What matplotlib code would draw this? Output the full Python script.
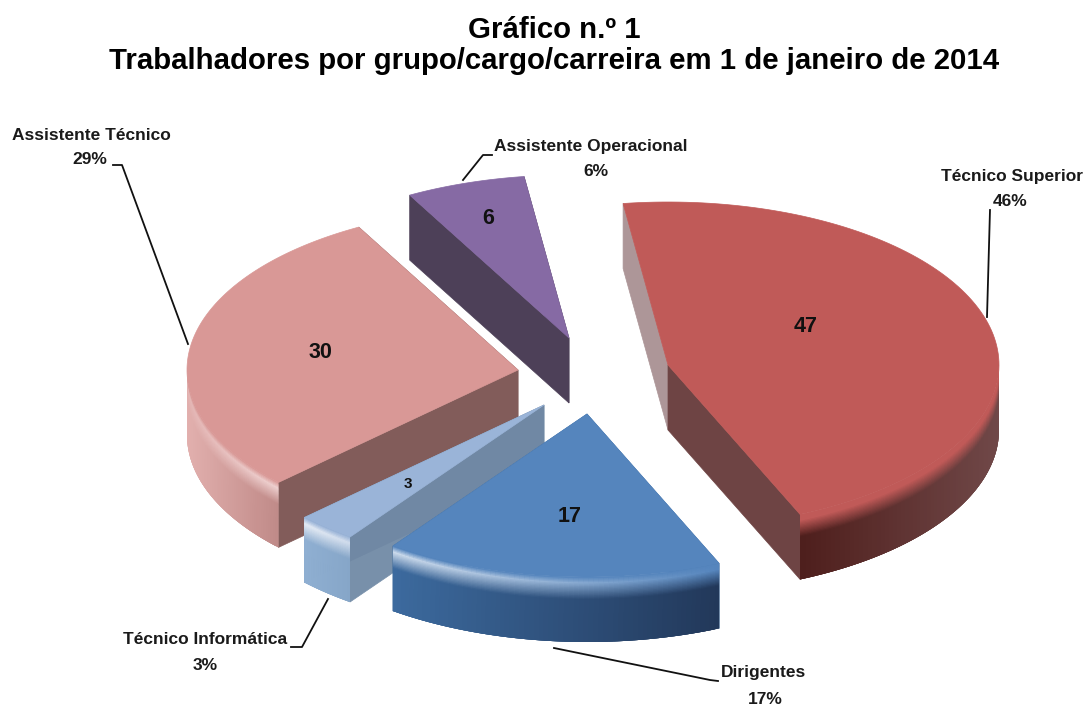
#!/usr/bin/env python3
import numpy as np
import matplotlib

matplotlib.use("Agg")
import matplotlib.pyplot as plt
from matplotlib.collections import PolyCollection
from matplotlib.colors import to_rgb
from matplotlib.patches import Polygon

categorias = ["Técnico Superior", "Dirigentes", "Técnico Informática", "Assistente Técnico", "Assistente Operacional"]
valores = [47, 17, 3, 30, 6]
percentagens = ["46%", "17%", "3%", "29%", "6%"]

TITULO_1 = "Gráfico n.º 1"
TITULO_2 = "Trabalhadores por grupo/cargo/carreira em 1 de janeiro de 2014"

# layout, in image pixels
W, H = 1085, 706
RX, RY = 331, 163
DEPTH = 65
START = -7.8
APEX = [(668, 365), (587, 414), (544, 405), (518, 370), (569, 338)]
ORDER = [4, 3, 2, 0, 1]

TOP = ["#c05a58", "#5585bd", "#9ab4d8", "#d99896", "#866aa4"]
CUT_A = ["#ad9698", "#3c6a9e", "#7890aa", "#825c5a", "#4d4058"]
CUT_B = ["#6e4444", "#3c6a9e", "#7088a4", "#825c5a", "#4d4058"]
WALL_L = ["#4e1e1c", "#3c6a9e", "#8fafd2", "#e2b0ae", "#4d4058"]
WALL_R = ["#704848", "#22385a", "#86a6c8", "#c08a88", "#4d4058"]
GLOW_L = [0.0, 0.7, 0.75, 0.3, 0.0]
GLOW_R = [0.0, 0.0, 0.55, 0.55, 0.0]

VALUE_POS = [(806, 326), (570, 516), (408, 484), (320, 352), (488, 218)]
VALUE_SIZE = [15.5, 15.5, 11, 15.5, 15.5]
LABEL_POS = [(1012, 177), (764, 673), (205, 640), (91, 135), (591, 147)]
PCT_POS = [(1010, 201), (765, 699), (205, 665), (90, 160), (596, 172)]
LEADERS = [
    [(990, 210), (987, 317)],
    [(554, 648), (710, 680), (718, 681)],
    [(328, 599), (302, 647), (291, 647)],
    [(113, 165), (122, 165), (188, 344)],
    [(463, 180), (483, 155), (492, 155)],
]


def rim(apex, theta):
    r = np.radians(theta)
    return apex[0] + RX * np.sin(r), apex[1] - RY * np.cos(r)


def mix(a, b, t):
    a, b = np.array(to_rgb(a)), np.array(to_rgb(b))
    return a + (b - a) * t


def draw_slice(ax, i, t0, t1):
    apex = APEX[i]
    down = np.array([0, DEPTH])
    p0 = np.array(rim(apex, t0))
    p1 = np.array(rim(apex, t1))
    a = np.array(apex)
    # flat cut faces first, the top face hides whichever faces away
    ax.add_patch(Polygon([p0, a, a + down, p0 + down], fc=CUT_A[i], ec=CUT_A[i], lw=0.5))
    ax.add_patch(Polygon([p1, a, a + down, p1 + down], fc=CUT_B[i], ec=CUT_B[i], lw=0.5))

    # outer wall with bevel, only the part facing the viewer
    lo, hi = max(t0, 90), min(t1, 270)
    if lo < hi:
        thetas = np.linspace(lo, hi, 70)
        xs = np.array([rim(apex, t)[0] for t in thetas])
        us = (xs - xs.min()) / max(xs.max() - xs.min(), 1)
        steps = np.concatenate([np.linspace(0, 0.34, 18), np.linspace(0.34, 1, 4)[1:]])
        quads, cols = [], []
        last = len(thetas) - 1
        for k in range(last):
            pa = np.array(rim(apex, thetas[k]))
            # each quad runs over the next one so the seams do not show
            pb = np.array(rim(apex, thetas[min(k + 2, last)]))
            u = (us[k] + us[k + 1]) / 2
            wall = mix(WALL_L[i], WALL_R[i], u)
            glow = GLOW_L[i] + (GLOW_R[i] - GLOW_L[i]) * u
            hl = mix(TOP[i], "#ffffff", glow)
            for j in range(len(steps) - 1):
                s0 = steps[j]
                s1 = steps[min(j + 2, len(steps) - 1)]
                s = (steps[j] + steps[j + 1]) / 2
                if s < 0.09:
                    c = mix(TOP[i], hl, s / 0.09)
                elif s < 0.34:
                    c = mix(hl, wall, (s - 0.09) / 0.25)
                else:
                    c = wall
                quads.append([pa + down * s0, pb + down * s0, pb + down * s1, pa + down * s1])
                cols.append(c)
        ax.add_collection(PolyCollection(quads, facecolors=cols, edgecolors="none", linewidths=0))

    arc = [rim(apex, t) for t in np.linspace(t0, t1, 120)]
    ax.add_patch(Polygon([apex] + arc, fc=TOP[i], ec=TOP[i], lw=0.5))


def main():
    plt.rcParams["font.family"] = ["Liberation Sans", "DejaVu Sans"]
    fig = plt.figure(figsize=(W / 100, H / 100), dpi=100)
    ax = fig.add_axes([0, 0, 1, 1])
    ax.set_xlim(0, W)
    ax.set_ylim(H, 0)
    ax.axis("off")

    spans = np.array(valores) / sum(valores) * 360
    edges = START + np.concatenate([[0], np.cumsum(spans)])
    for i in ORDER:
        draw_slice(ax, i, edges[i], edges[i + 1])

    for i in range(len(valores)):
        x, y = VALUE_POS[i]
        ax.text(x, y, str(valores[i]), fontsize=VALUE_SIZE[i], fontweight="bold", ha="center", va="center", color="#111111")
        x, y = LABEL_POS[i]
        ax.text(x, y, categorias[i], fontsize=12.5, fontweight="bold", ha="center", va="center", color="#1a1a1a")
        x, y = PCT_POS[i]
        ax.text(x, y, percentagens[i], fontsize=12.5, fontweight="bold", ha="center", va="center", color="#1a1a1a")
        pts = np.array(LEADERS[i])
        ax.plot(pts[:, 0], pts[:, 1], color="#111111", lw=1.3)

    ax.text(554, 30, TITULO_1, fontsize=21.2, fontweight="bold", ha="center", va="center", color="black")
    ax.text(554, 61, TITULO_2, fontsize=21.2, fontweight="bold", ha="center", va="center", color="black")
    fig.savefig("out.png", dpi=100)
    plt.close(fig)


if __name__ == "__main__":
    main()
